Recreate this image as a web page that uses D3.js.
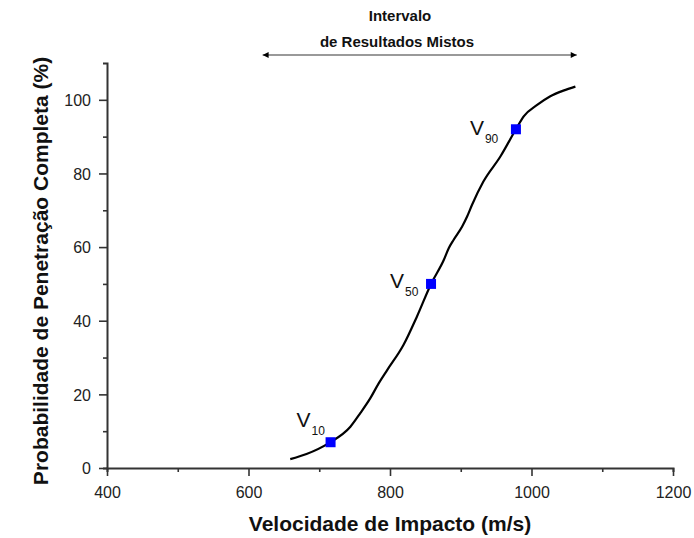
<!DOCTYPE html>
<html>
<head>
<meta charset="utf-8">
<script src="https://cdn.jsdelivr.net/npm/d3@7"></script>
<style>
  body { margin: 0; background: #fff; }
  text { font-family: Arial, "Liberation Sans", sans-serif; }
</style>
</head>
<body>
<div id="chart"></div>
<script>
// curva de probabilidade de penetração
const velocidade = [659, 682, 713, 744, 758, 772, 784, 796, 819, 838, 858, 876, 883, 890, 902, 909, 916, 932, 956, 978, 989, 1008, 1026, 1045, 1062];
const probabilidade = [2.4, 3.8, 6.7, 11.2, 14.9, 18.9, 23, 26.6, 33.4, 41.1, 50, 56.5, 59.7, 62, 65.6, 68.3, 71.5, 77.8, 84.6, 92, 95.5, 98.6, 100.9, 102.5, 103.6];

// pontos V10, V50, V90
const marcoNomes = ["10", "50", "90"];
const marcoV = [716, 858, 978];
const marcoP = [7, 50, 92];

// intervalo de resultados mistos
const intervalo = [620, 1064];

const xTicks = [400, 600, 800, 1000, 1200];
const yTicks = [0, 20, 40, 60, 80, 100];

const width = 694, height = 538;

const svg = d3.select("#chart").append("svg")
    .attr("width", width)
    .attr("height", height);

// escalas
const x = d3.scaleLinear([400, 1200], [107, 673]);
const y = d3.scaleLinear([0, 110], [468, 63]);

const eixoCor = "#333";

// eixo x
const gx = svg.append("g").attr("transform", `translate(0,${y(0)})`);
gx.call(d3.axisBottom(x).tickValues(d3.range(400, 1201, 100)).tickSize(4).tickFormat(""));
gx.call(g => g.selectAll(".tick").filter(d => xTicks.includes(d)).select("line").attr("y2", 8));
gx.selectAll(".tick").filter(d => xTicks.includes(d)).append("text")
    .attr("y", 30).attr("fill", "#222").attr("text-anchor", "middle")
    .style("font-size", "16px").text(d => d);

// eixo y
const gy = svg.append("g").attr("transform", `translate(${x(400)},0)`);
gy.call(d3.axisLeft(y).tickValues(d3.range(0, 101, 10)).tickSize(4).tickFormat(""));
gy.call(g => g.selectAll(".tick").filter(d => yTicks.includes(d)).select("line").attr("x2", -8));
gy.selectAll(".tick").filter(d => yTicks.includes(d)).append("text")
    .attr("x", -16).attr("dy", "0.36em").attr("fill", "#222").attr("text-anchor", "end")
    .style("font-size", "16px").text(d => d);

[gx, gy].forEach(g => {
    g.select(".domain").attr("stroke", eixoCor).attr("stroke-width", 2);
    g.selectAll(".tick line").attr("stroke", eixoCor).attr("stroke-width", 1.6);
});

// títulos dos eixos
svg.append("text")
    .attr("x", 390).attr("y", 531)
    .attr("text-anchor", "middle")
    .attr("fill", "#111")
    .style("font-size", "21px").style("font-weight", "bold")
    .text("Velocidade de Impacto (m/s)");

svg.append("text")
    .attr("transform", "translate(48,271) rotate(-90)")
    .attr("text-anchor", "middle")
    .attr("fill", "#111")
    .style("font-size", "21px").style("font-weight", "bold")
    .text("Probabilidade de Penetração Completa (%)");

// curva
const dados = velocidade.map((v, i) => [v, probabilidade[i]]);
svg.append("path")
    .datum(dados)
    .attr("fill", "none")
    .attr("stroke", "#000")
    .attr("stroke-width", 2.2)
    .attr("d", d3.line().x(d => x(d[0])).y(d => y(d[1])).curve(d3.curveMonotoneX));

// marcadores azuis
const marcos = marcoNomes.map((n, i) => ({ nome: n, v: marcoV[i], p: marcoP[i] }));
svg.selectAll("rect.marco")
    .data(marcos)
    .enter().append("rect")
    .classed("marco", true)
    .attr("x", d => x(d.v) - 5)
    .attr("y", d => y(d.p) - 5)
    .attr("width", 10).attr("height", 10)
    .attr("fill", "#0000ff");

// rótulos V com subscrito (deslocamentos em pixels)
const desloc = [[-34, -15], [-41, 4], [-46, 6]];
const rot = svg.selectAll("text.rotulo")
    .data(marcos)
    .enter().append("text")
    .classed("rotulo", true)
    .attr("x", (d, i) => x(d.v) + desloc[i][0])
    .attr("y", (d, i) => y(d.p) + desloc[i][1])
    .attr("fill", "#111")
    .style("font-size", "21px");
rot.append("tspan").text("V");
rot.append("tspan").attr("dy", 8).attr("dx", 1).style("font-size", "12px").text(d => d.nome);

// seta do intervalo
const defs = svg.append("defs");
["fim", "ini"].forEach(id => {
    defs.append("marker")
        .attr("id", id)
        .attr("viewBox", "0 0 10 10")
        .attr("refX", id === "fim" ? 10 : 0).attr("refY", 5)
        .attr("markerWidth", 10).attr("markerHeight", 6)
        .attr("markerUnits", "userSpaceOnUse")
        .attr("orient", "auto")
        .append("path")
        .attr("d", id === "fim" ? "M0,0 L10,5 L0,10 Z" : "M10,0 L0,5 L10,10 Z")
        .attr("fill", "#000");
});
svg.append("line")
    .attr("x1", x(intervalo[0])).attr("x2", x(intervalo[1]))
    .attr("y1", 55).attr("y2", 55)
    .attr("stroke", "#999").attr("stroke-width", 1.8)
    .attr("marker-start", "url(#ini)")
    .attr("marker-end", "url(#fim)");

svg.append("text")
    .attr("x", 400).attr("y", 21).attr("text-anchor", "middle")
    .attr("fill", "#111")
    .style("font-size", "15px").style("font-weight", "bold")
    .text("Intervalo");
svg.append("text")
    .attr("x", 397).attr("y", 47).attr("text-anchor", "middle")
    .attr("fill", "#111")
    .style("font-size", "15px").style("font-weight", "bold")
    .text("de Resultados Mistos");
</script>
</body>
</html>
